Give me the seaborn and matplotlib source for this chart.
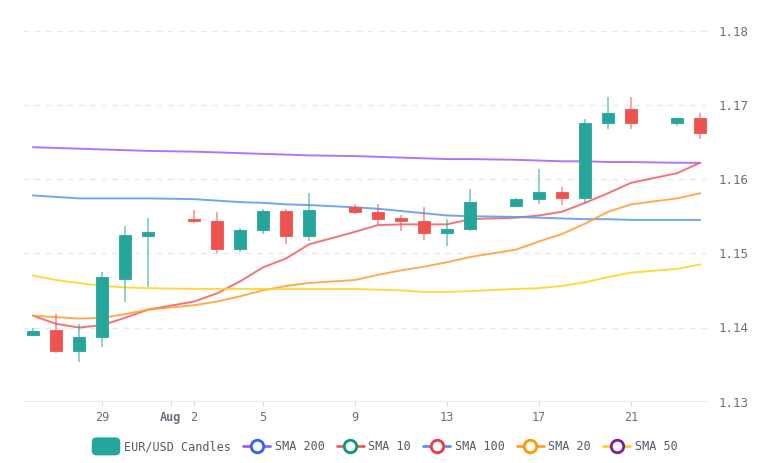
import pandas as pd
import matplotlib.pyplot as plt
import matplotlib.dates as mdates
import seaborn as sns
from matplotlib.lines import Line2D
from matplotlib.patches import FancyBboxPatch, Patch
from matplotlib.legend_handler import HandlerPatch, HandlerTuple

dates = ["2025-07-26", "2025-07-27", "2025-07-28", "2025-07-29", "2025-07-30", "2025-07-31",
         "2025-08-02", "2025-08-03", "2025-08-04", "2025-08-05", "2025-08-06", "2025-08-07",
         "2025-08-09", "2025-08-10", "2025-08-11", "2025-08-12", "2025-08-13", "2025-08-14",
         "2025-08-16", "2025-08-17", "2025-08-18", "2025-08-19", "2025-08-20", "2025-08-21",
         "2025-08-23", "2025-08-24"]
opens = [1.1390, 1.1396, 1.1369, 1.1387, 1.1466, 1.1523,
         1.1546, 1.1544, 1.1506, 1.1531, 1.1557, 1.1523,
         1.1563, 1.1556, 1.1547, 1.1544, 1.1528, 1.1533,
         1.1564, 1.1573, 1.1583, 1.1575, 1.1675, 1.1694,
         1.1676, 1.1682]
highs = [1.1399, 1.1418, 1.1405, 1.1475, 1.1537, 1.1548,
         1.1559, 1.1556, 1.1534, 1.1560, 1.1560, 1.1581,
         1.1566, 1.1567, 1.1551, 1.1563, 1.1546, 1.1586,
         1.1575, 1.1614, 1.1589, 1.1681, 1.1711, 1.1711,
         1.1682, 1.1689]
lows = [1.1388, 1.1366, 1.1353, 1.1374, 1.1434, 1.1454,
        1.1541, 1.1500, 1.1502, 1.1526, 1.1513, 1.1517,
        1.1553, 1.1538, 1.1530, 1.1518, 1.1510, 1.1530,
        1.1562, 1.1566, 1.1565, 1.1568, 1.1667, 1.1667,
        1.1672, 1.1654]
closes = [1.1395, 1.1369, 1.1387, 1.1468, 1.1524, 1.1529,
          1.1543, 1.1506, 1.1532, 1.1557, 1.1523, 1.1558,
          1.1555, 1.1546, 1.1543, 1.1528, 1.1533, 1.1569,
          1.1573, 1.1583, 1.1575, 1.1675, 1.1689, 1.1676,
          1.1682, 1.1662]

sma_200 = [1.1643, 1.1642, 1.1641, 1.1640, 1.1639, 1.1638, 1.1637, 1.1636, 1.1635, 1.1634,
           1.1633, 1.1632, 1.1631, 1.1630, 1.1629, 1.1628, 1.1627, 1.1627, 1.1626, 1.1625,
           1.1624, 1.1624, 1.1623, 1.1623, 1.1622, 1.1622]
sma_10 = [1.1416, 1.1405, 1.1400, 1.1403, 1.1413, 1.1424, 1.1435, 1.1446, 1.1462, 1.1481,
          1.1493, 1.1512, 1.1529, 1.1538, 1.1539, 1.1539, 1.1539, 1.1546, 1.1548, 1.1551,
          1.1556, 1.1568, 1.1581, 1.1595, 1.1608, 1.1622]
sma_100 = [1.1578, 1.1576, 1.1574, 1.1574, 1.1574, 1.1574, 1.1573, 1.1571, 1.1569, 1.1568,
           1.1566, 1.1565, 1.1562, 1.1560, 1.1557, 1.1554, 1.1551, 1.1550, 1.1549, 1.1548,
           1.1547, 1.1546, 1.1546, 1.1545, 1.1545, 1.1545]
sma_20 = [1.1416, 1.1414, 1.1412, 1.1413, 1.1418, 1.1424, 1.1430, 1.1435, 1.1442, 1.1450,
          1.1456, 1.1460, 1.1464, 1.1471, 1.1477, 1.1482, 1.1488, 1.1495, 1.1505, 1.1516,
          1.1526, 1.1540, 1.1556, 1.1566, 1.1574, 1.1581]
sma_50 = [1.1470, 1.1464, 1.1460, 1.1456, 1.1454, 1.1453, 1.1452, 1.1452, 1.1452, 1.1452,
          1.1452, 1.1452, 1.1452, 1.1451, 1.1450, 1.1448, 1.1448, 1.1449, 1.1452, 1.1453,
          1.1456, 1.1461, 1.1468, 1.1474, 1.1479, 1.1485]

tick_dates = ["2025-07-29", "2025-08-01", "2025-08-02", "2025-08-05", "2025-08-09",
              "2025-08-13", "2025-08-17", "2025-08-21"]
tick_labels = ["29", "Aug", "2", "5", "9", "13", "17", "21"]
y_ticks = [1.13, 1.14, 1.15, 1.16, 1.17, 1.18]

up_color = "#26a69a"
down_color = "#ef5350"
sma_names = ["SMA 200", "SMA 10", "SMA 100", "SMA 20", "SMA 50"]
line_colors = {"SMA 200": "#a35cf5", "SMA 10": "#f25c5f", "SMA 100": "#5b93f3",
               "SMA 20": "#ff9d2e", "SMA 50": "#ffd21f"}
circle_colors = {"SMA 200": "#2962ff", "SMA 10": "#089981", "SMA 100": "#f23645",
                 "SMA 20": "#ff9800", "SMA 50": "#7b1fa2"}

sns.set_style("white")
plt.rcParams["font.family"] = ["DejaVu Sans Mono"]

candles = pd.DataFrame({"Date": pd.to_datetime(dates), "Open": opens, "High": highs,
                        "Low": lows, "Close": closes})
sma = pd.DataFrame({"Date": pd.to_datetime(dates), "SMA 200": sma_200, "SMA 10": sma_10,
                    "SMA 100": sma_100, "SMA 20": sma_20, "SMA 50": sma_50})
sma_long = sma.melt(id_vars="Date", var_name="Series", value_name="Value")

fig = plt.figure(figsize=(7.7, 4.63), dpi=100)
ax = fig.add_axes([23 / 770, 1 - 401.7 / 463, 687 / 770, 371 / 463])

# gridlines
for y in y_ticks[1:]:
    ax.axhline(y, color="#e6e8ee", lw=1, ls=(0, (4, 4)), zorder=0)
ax.axhline(1.13, color="#e6e8ee", lw=1.2, zorder=0)

# SMA lines
sns.lineplot(data=sma_long, x="Date", y="Value", hue="Series", hue_order=sma_names,
             palette=line_colors, lw=1.4, alpha=0.85, legend=False, ax=ax, zorder=2)

# candles
x = mdates.date2num(candles["Date"])
colors = [up_color if c >= o else down_color for o, c in zip(candles["Open"], candles["Close"])]
ax.vlines(x, candles["Low"], candles["High"], colors=colors, lw=1.2, alpha=0.6, zorder=3)
bottoms = candles[["Open", "Close"]].min(axis=1)
heights = (candles["Close"] - candles["Open"]).abs().clip(lower=0.00025)
ax.bar(x, heights, bottom=bottoms, width=0.52, color=colors, edgecolor=colors,
       lw=0.6, zorder=4)

x0 = mdates.date2num(pd.Timestamp(dates[0]))
ax.set_xlim(x0 - 0.43, x0 + 29.43)
ax.set_ylim(1.13, 1.18)

ax.set_xticks(mdates.date2num(pd.to_datetime(tick_dates)))
ax.set_xticklabels(tick_labels)
ax.get_xticklabels()[1].set_fontweight("bold")
ax.get_xticklabels()[1].set_color("#333333")
ax.yaxis.tick_right()
ax.set_yticks(y_ticks)
ax.set_yticklabels([f"{v:.2f}" for v in y_ticks])
ax.tick_params(axis="x", length=3, color="#d6d9e0", labelsize=8.5, labelcolor="#6b6f7a",
               pad=4, bottom=True)
ax.tick_params(axis="y", length=0, labelsize=9, labelcolor="#6b6f7a", pad=6)
ax.set_xlabel("")
ax.set_ylabel("")
for s in ax.spines.values():
    s.set_visible(False)


def make_box(legend, orig_handle, xdescent, ydescent, width, height, fontsize):
    return FancyBboxPatch((-xdescent, -ydescent - 3), width, height + 6,
                          boxstyle="round,pad=0,rounding_size=3")


handles = [Patch(facecolor=up_color, edgecolor=up_color)]
labels = ["EUR/USD Candles"]
for name in sma_names:
    seg = Line2D([], [], color=line_colors[name], lw=2)
    circ = Line2D([], [], ls="none", marker="o", markersize=9, markerfacecolor="white",
                  markeredgecolor=circle_colors[name], markeredgewidth=2)
    handles.append((seg, circ))
    labels.append(name)

fig.legend(handles, labels, loc="center", bbox_to_anchor=(0.5, 1 - 447 / 463), ncol=6,
           frameon=False, fontsize=8.5, handlelength=2.3, handletextpad=0.4,
           columnspacing=1.0, labelcolor="#555a66",
           handler_map={Patch: HandlerPatch(patch_func=make_box),
                        tuple: HandlerTuple(ndivide=1)})

fig.savefig("out.png", dpi=100)
